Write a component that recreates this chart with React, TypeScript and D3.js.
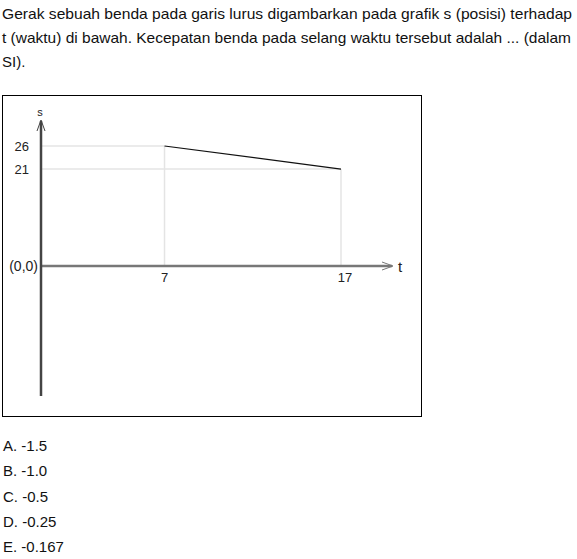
import React from "react";
import * as d3 from "d3";

// question text, split the way the page wraps it
const questionLines = [
  "Gerak sebuah benda pada garis lurus digambarkan pada grafik s (posisi) terhadap",
  "t (waktu) di bawah. Kecepatan benda pada selang waktu tersebut adalah ... (dalam",
  "SI).",
];
const lineWidths = [570, 569, 0];

// graph data
const tValues = [7, 17];
const sValues = [26, 21];
const xTicks = [7, 17];
const yTicks = [26, 21];

const answers = ["A. -1.5", "B. -1.0", "C. -0.5", "D. -0.25", "E. -0.167"];

const W = 577;
const H = 559;
const font = "Arial, 'Liberation Sans', sans-serif";

const App = () => {
  const x = d3.scaleLinear().domain([0, 17]).range([41, 341]);
  const y = d3.scaleLinear().domain([0, 26]).range([266, 146]);

  const pts = tValues.map((t, i) => ({ t, s: sValues[i] }));
  const line = d3
    .line<{ t: number; s: number }>()
    .x((d) => x(d.t))
    .y((d) => y(d.s));

  const x0 = x(0);
  const y0 = y(0);

  return (
    <div style={{ position: "absolute", left: 0, top: 0 }}>
      <svg width={W} height={H} style={{ display: "block" }}>
        <rect width={W} height={H} fill="#fff" />
        {questionLines.map((l, i) => (
          <text
            key={i}
            x={2}
            y={19 + i * 24}
            fontFamily={font}
            fontSize={15}
            fill="#111"
            {...(lineWidths[i] ? { textLength: lineWidths[i], lengthAdjust: "spacingAndGlyphs" } : {})}
          >
            {l}
          </text>
        ))}

        {/* frame */}
        <rect x={2.5} y={95.5} width={419} height={321} fill="none" stroke="#000" strokeWidth={1} />

        {/* grid guides */}
        {pts.map((d, i) => (
          <g key={i} stroke="#e4e4e4" strokeWidth={1.5}>
            <line x1={x0} x2={x(d.t)} y1={y(d.s)} y2={y(d.s)} />
            <line x1={x(d.t)} x2={x(d.t)} y1={y(d.s)} y2={y0} />
          </g>
        ))}

        {/* axes */}
        <line x1={x0} x2={392} y1={y0} y2={y0} stroke="#777" strokeWidth={2.5} />
        <path d={`M382,${y0 - 4} L393,${y0} L382,${y0 + 4}`} fill="none" stroke="#777" strokeWidth={1} />
        <line x1={x0} x2={x0} y1={121} y2={396} stroke="#444" strokeWidth={2.5} />
        <path d={`M${x0 - 4},131 L${x0},120 L${x0 + 4},131`} fill="none" stroke="#444" strokeWidth={1} />

        <text x={x0 - 1} y={116} textAnchor="middle" fontFamily={font} fontSize={11} fill="#222">s</text>
        <text x={398} y={272} fontFamily={font} fontSize={15} fill="#222">t</text>

        {yTicks.map((v) => (
          <text key={v} x={29} y={y(v) + 5} textAnchor="end" fontFamily={font} fontSize={13} fill="#222">
            {v}
          </text>
        ))}
        <text x={38} y={y0 + 5} textAnchor="end" fontFamily={font} fontSize={14} fill="#222">(0,0)</text>
        {xTicks.map((v) => (
          <text key={v} x={x(v) + (v > 9 ? 4 : 0)} y={y0 + 16} textAnchor="middle" fontFamily={font} fontSize={13} fill="#222">
            {v}
          </text>
        ))}

        <path d={line(pts) ?? ""} fill="none" stroke="#111" strokeWidth={1.2} />

        {answers.map((a, i) => (
          <text key={a} x={3} y={451 + i * 25.3} fontFamily={font} fontSize={15} fill="#111">
            {a}
          </text>
        ))}
      </svg>
    </div>
  );
};

export default App;
